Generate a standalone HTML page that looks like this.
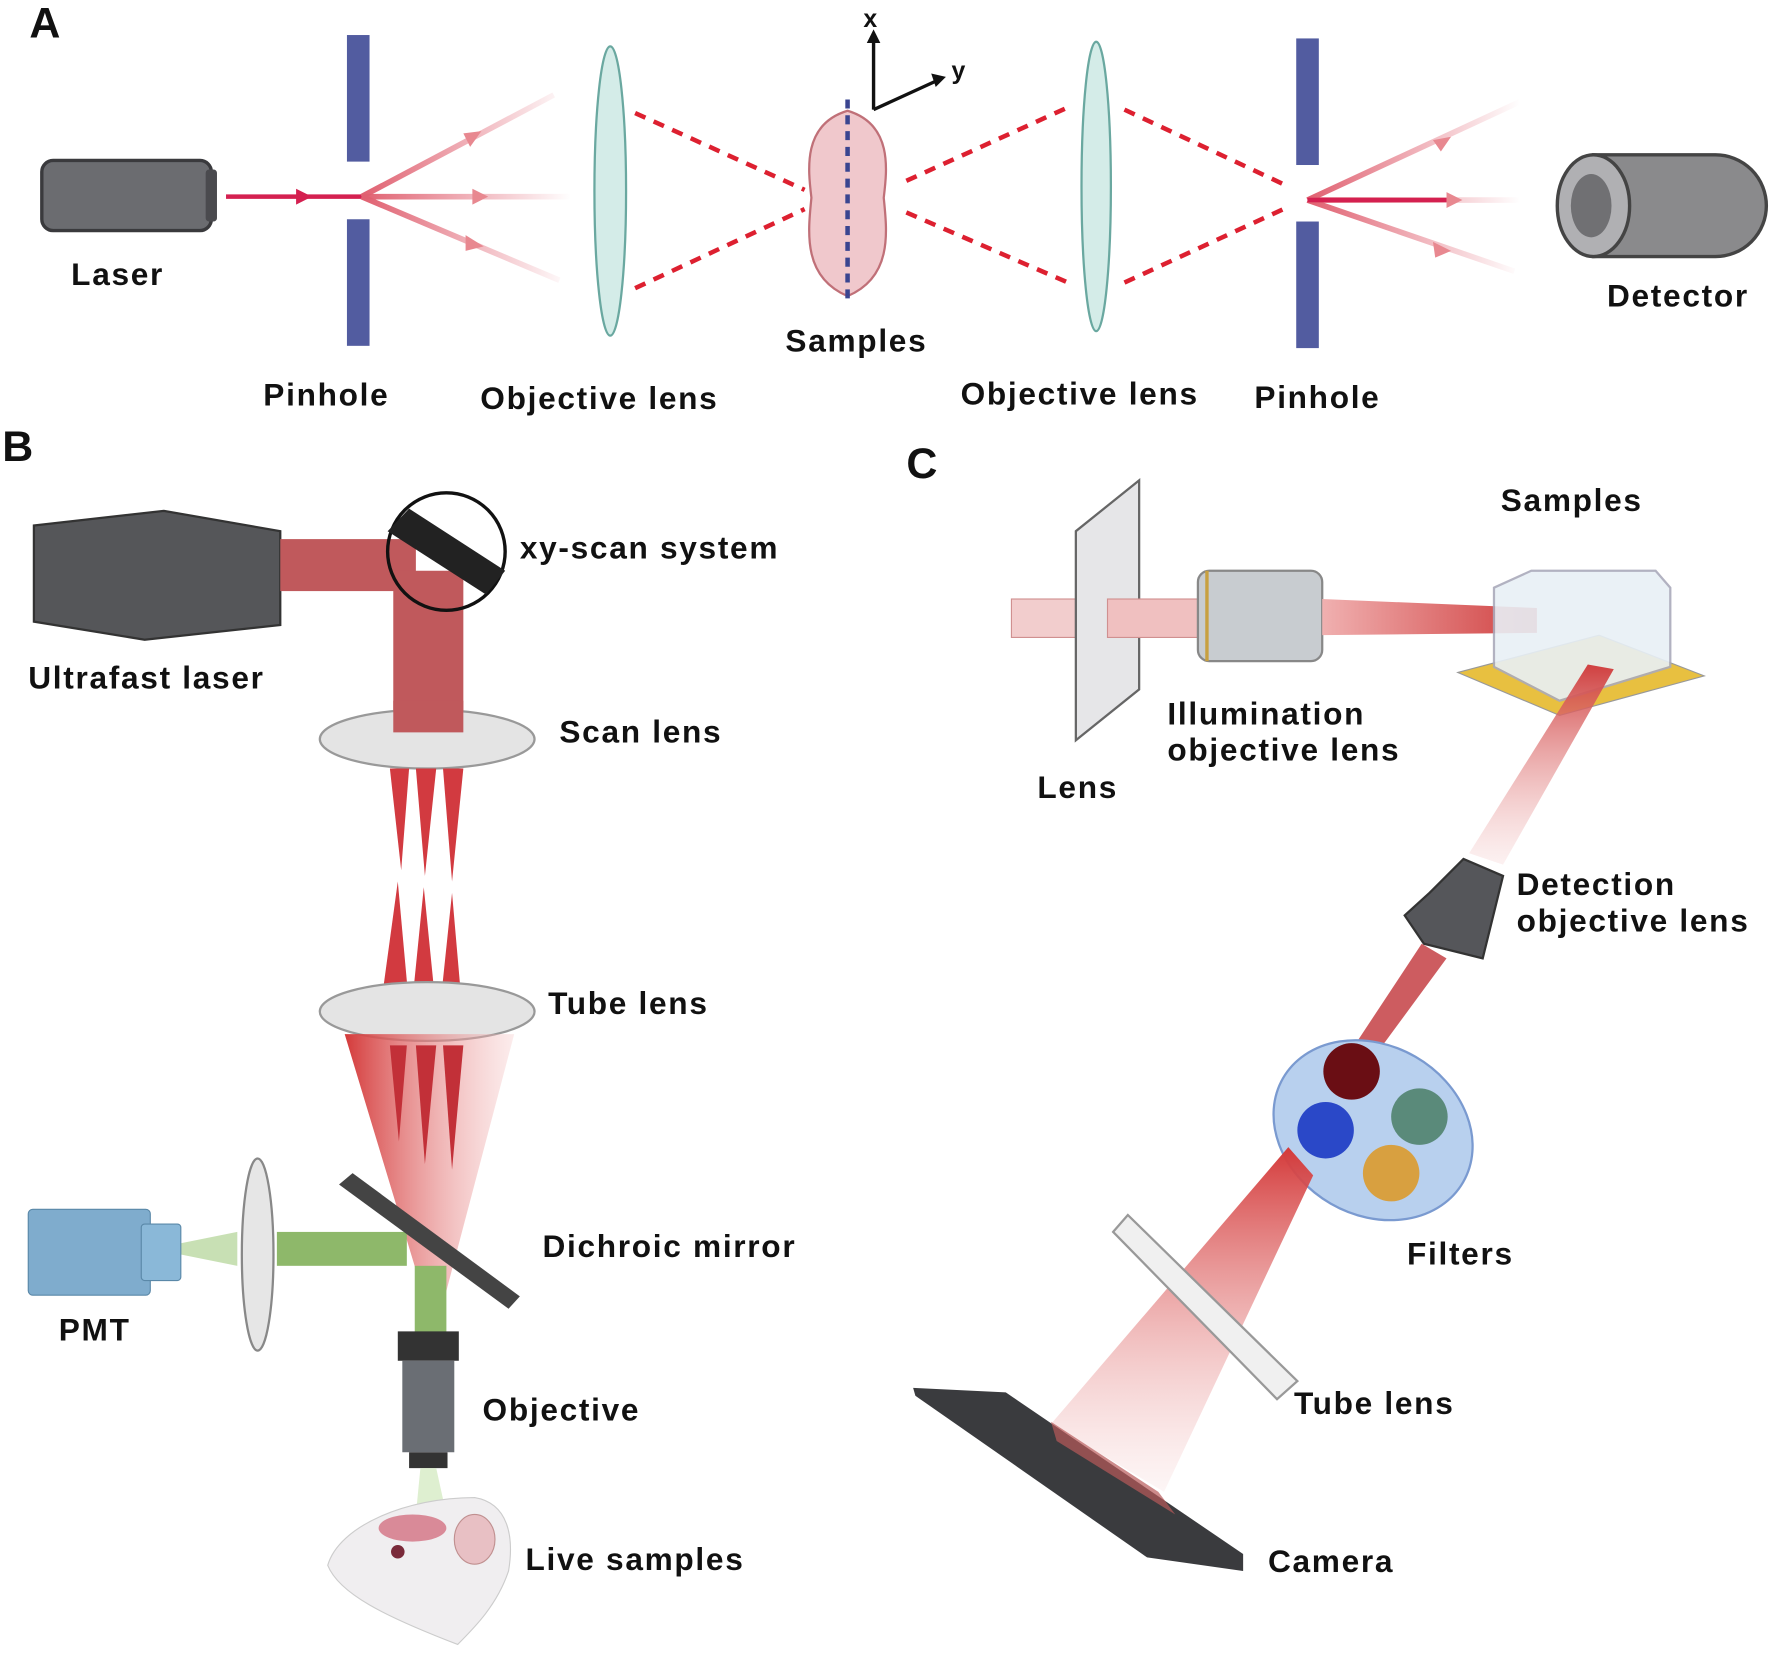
<!DOCTYPE html>
<html><head><meta charset="utf-8"><style>
html,body{margin:0;padding:0;background:#fff}
svg{display:block}
text{font-family:"Liberation Sans",sans-serif;font-weight:bold;fill:#111;letter-spacing:1.5px}
</style></head><body>
<svg width="1772" height="1658" viewBox="0 0 1568 1467" preserveAspectRatio="none" xmlns="http://www.w3.org/2000/svg">
<defs>
<linearGradient id="fadeA" gradientUnits="userSpaceOnUse" x1="320" y1="0" x2="505" y2="0"><stop offset="0" stop-color="#e06070"/><stop offset="1" stop-color="#e06070" stop-opacity="0"/></linearGradient>
<linearGradient id="fadeB" gradientUnits="userSpaceOnUse" x1="1157" y1="0" x2="1345" y2="0"><stop offset="0" stop-color="#e06070"/><stop offset="1" stop-color="#e06070" stop-opacity="0"/></linearGradient>
<linearGradient id="cone" x1="0" y1="0" x2="1" y2="0"><stop offset="0" stop-color="#d43a3a"/><stop offset="1" stop-color="#f4c0c0" stop-opacity="0.3"/></linearGradient>
<linearGradient id="beamC" x1="0" x2="1"><stop offset="0" stop-color="#f0b0b0"/><stop offset="1" stop-color="#d04040"/></linearGradient>
<linearGradient id="beamD" x1="0" y1="1" x2="0" y2="0"><stop offset="0" stop-color="#f5d0d0" stop-opacity="0.3"/><stop offset="1" stop-color="#d04040"/></linearGradient>
<linearGradient id="camCone" x1="0" y1="1" x2="0" y2="0"><stop offset="0" stop-color="#f5d0d0" stop-opacity="0.2"/><stop offset="1" stop-color="#d43a3a"/></linearGradient>
</defs>
<g font-size="28">
<!-- Panel A -->
<text x="26" y="33" font-size="38">A</text>
<rect x="37" y="142" width="150" height="62" rx="10" fill="#6b6c70" stroke="#3a3a3d" stroke-width="3"/>
<rect x="182" y="150" width="10" height="46" rx="3" fill="#4a4a4e"/>
<text x="63" y="252">Laser</text>
<line x1="200" y1="174" x2="320" y2="174" stroke="#d42050" stroke-width="4"/>
<polygon points="262,167 276,174 262,181" fill="#d42050"/>
<rect x="307" y="31" width="20" height="112" fill="#525ca0"/>
<rect x="307" y="194" width="20" height="112" fill="#525ca0"/>
<g stroke="url(#fadeA)" stroke-width="5">
<line x1="320" y1="174" x2="490" y2="84"/><line x1="320" y1="174" x2="510" y2="174"/><line x1="320" y1="174" x2="495" y2="248"/></g>
<g fill="#e88890"><polygon points="410,118 426,116 416,130"/><polygon points="418,167 432,174 418,181"/><polygon points="412,208 428,218 412,222"/></g>
<text x="233" y="359">Pinhole</text>
<ellipse cx="540" cy="169" rx="14" ry="128" fill="#d4ece8" stroke="#6aa8a0" stroke-width="2"/>
<text x="425" y="362">Objective lens</text>
<g stroke="#dd2030" stroke-width="4" stroke-dasharray="10,8" fill="none">
<line x1="562" y1="100" x2="712" y2="168"/><line x1="562" y1="255" x2="712" y2="185"/>
<line x1="802" y1="160" x2="945" y2="95"/><line x1="802" y1="188" x2="945" y2="250"/>
<line x1="995" y1="97" x2="1140" y2="165"/><line x1="995" y1="250" x2="1140" y2="183"/></g>
<path d="M750,98 C790,110 785,150 782,175 C785,205 790,245 750,262 C710,245 715,205 718,175 C715,150 710,110 750,98Z" fill="#f0c8cc" stroke="#c07078" stroke-width="2"/>
<line x1="750" y1="88" x2="750" y2="265" stroke="#3a4590" stroke-width="4" stroke-dasharray="8,6"/>
<text x="695" y="311">Samples</text>
<line x1="773" y1="97" x2="773" y2="30" stroke="#111" stroke-width="3"/><polygon points="767,38 773,26 779,38" fill="#111"/>
<line x1="773" y1="97" x2="832" y2="70" stroke="#111" stroke-width="3"/><polygon points="824,65 837,68 828,77" fill="#111"/>
<text x="764" y="24" font-size="22">x</text><text x="842" y="70" font-size="22">y</text>
<ellipse cx="970" cy="165" rx="13" ry="128" fill="#d4ece8" stroke="#6aa8a0" stroke-width="2"/>
<text x="850" y="358">Objective lens</text>
<rect x="1147" y="34" width="20" height="112" fill="#525ca0"/>
<rect x="1147" y="196" width="20" height="112" fill="#525ca0"/>
<g stroke="url(#fadeB)" stroke-width="5">
<line x1="1157" y1="177" x2="1345" y2="90"/><line x1="1157" y1="177" x2="1345" y2="177"/><line x1="1157" y1="177" x2="1340" y2="240"/></g>
<line x1="1157" y1="177" x2="1280" y2="177" stroke="#d42050" stroke-width="4"/>
<g fill="#e88890"><polygon points="1268,124 1284,121 1275,134"/><polygon points="1280,170 1294,177 1280,184"/><polygon points="1268,214 1284,222 1270,228"/></g>
<text x="1110" y="361">Pinhole</text>
<path d="M1410,137 H1518 A45,45 0 0 1 1518,227 H1410Z" fill="#8a8a8c" stroke="#444" stroke-width="3"/>
<ellipse cx="1410" cy="182" rx="32" ry="45" fill="#b0b0b3" stroke="#444" stroke-width="3"/>
<ellipse cx="1408" cy="182" rx="18" ry="28" fill="#707073"/>
<text x="1422" y="271">Detector</text>

<!-- Panel B -->
<text x="2" y="408" font-size="38">B</text>
<polygon points="30,465 145,452 248,470 248,553 128,566 30,550" fill="#555659" stroke="#333" stroke-width="2"/>
<rect x="248" y="477" width="120" height="46" fill="#c0595c"/>
<rect x="348" y="505" width="62" height="142" fill="#c0595c"/>
<circle cx="395" cy="488" r="52" fill="none" stroke="#111" stroke-width="3"/>
<polygon points="343,470 362,450 447,505 430,526" fill="#222"/>
<text x="460" y="494">xy-scan system</text>
<text x="25" y="609">Ultrafast laser</text>
<ellipse cx="378" cy="654" rx="95" ry="26" fill="#e4e4e4" stroke="#999" stroke-width="2"/>
<rect x="348" y="620" width="62" height="28" fill="#c0595c"/>
<text x="495" y="657">Scan lens</text>
<g fill="#d23a40">
<polygon points="345,680 362,680 355,770"/><polygon points="368,680 386,680 376,775"/><polygon points="392,680 410,680 400,780"/>
<polygon points="352,780 337,890 362,890"/><polygon points="375,785 364,895 386,895"/><polygon points="400,790 388,905 410,905"/></g>
<ellipse cx="378" cy="895" rx="95" ry="26" fill="#e4e4e4" stroke="#999" stroke-width="2"/>
<text x="485" y="897">Tube lens</text>
<polygon points="305,915 455,915 385,1180" fill="url(#cone)"/>
<g fill="#c23038"><polygon points="345,925 360,925 353,1010"/><polygon points="368,925 386,925 376,1030"/><polygon points="392,925 410,925 400,1035"/></g>
<rect x="245" y="1090" width="115" height="30" fill="#8eb86a"/>
<rect x="367" y="1120" width="28" height="60" fill="#8eb86a"/>
<polygon points="160,1100 210,1090 210,1120 160,1110" fill="#c8e0b4"/>
<rect x="25" y="1070" width="108" height="76" rx="4" fill="#7faccd" stroke="#5a88a8"/>
<rect x="125" y="1083" width="35" height="50" rx="3" fill="#8ab8d8" stroke="#5a88a8"/>
<ellipse cx="228" cy="1110" rx="14" ry="85" fill="#e6e6e6" stroke="#888" stroke-width="2"/>
<text x="52" y="1186">PMT</text>
<polygon points="300,1048 312,1038 460,1147 450,1158" fill="#444"/>
<text x="480" y="1112">Dichroic mirror</text>
<rect x="352" y="1178" width="54" height="26" fill="#333"/>
<polygon points="356,1204 402,1204 402,1285 356,1285" fill="#6a6e74"/>
<rect x="362" y="1285" width="34" height="14" fill="#333"/>
<polygon points="372,1299 386,1299 395,1340 368,1340" fill="#d6ebc4" opacity="0.8"/>
<text x="427" y="1257">Objective</text>
<path d="M290,1385 C300,1350 360,1325 420,1325 C450,1330 455,1360 450,1390 C440,1420 420,1440 405,1455 C340,1430 300,1410 290,1385Z" fill="#f0eef0" stroke="#ccc"/>
<ellipse cx="365" cy="1352" rx="30" ry="12" fill="#d98a98"/>
<ellipse cx="420" cy="1362" rx="18" ry="22" fill="#e8c0c4" stroke="#c09090"/>
<circle cx="352" cy="1373" r="6" fill="#7a2a3a"/>
<text x="465" y="1389">Live samples</text>

<!-- Panel C -->
<text x="802" y="423" font-size="38">C</text>
<rect x="895" y="530" width="65" height="34" fill="#f2cdcd" stroke="#d09090"/>
<polygon points="952,470 1008,425 1008,610 952,655" fill="#e6e6e8" stroke="#666" stroke-width="2"/>
<rect x="980" y="530" width="80" height="34" fill="#f0c0c0" stroke="#d09090"/>
<rect x="1060" y="505" width="110" height="80" rx="10" fill="#c8ccd0" stroke="#888" stroke-width="2"/>
<line x1="1068" y1="505" x2="1068" y2="585" stroke="#c8a040" stroke-width="3"/>
<polygon points="1170,530 1360,538 1360,560 1170,562" fill="url(#beamC)"/>
<text x="918" y="706">Lens</text>
<text x="1033" y="641">Illumination</text><text x="1033" y="673">objective lens</text>
<polygon points="1290,595 1415,562 1508,598 1380,633" fill="#e8c040" stroke="#999"/>
<path d="M1322,520 L1355,505 H1465 L1478,520 V590 L1380,620 L1322,590Z" fill="#e8f0f6" stroke="#aab" stroke-width="2" opacity="0.9"/>
<text x="1328" y="452">Samples</text>
<polygon points="1405,588 1428,592 1330,765 1300,755" fill="url(#beamD)"/>
<polygon points="1265,790 1295,760 1330,775 1312,848 1260,835 1243,810" fill="#55565a" stroke="#333" stroke-width="2"/>
<text x="1342" y="792">Detection</text><text x="1342" y="824">objective lens</text>
<polygon points="1258,835 1280,848 1205,950 1190,938" fill="#cd5c60"/>
<ellipse cx="1215" cy="1000" rx="92" ry="75" fill="#b8d0ee" stroke="#7a9ad0" stroke-width="2" transform="rotate(30 1215 1000)"/>
<circle cx="1196" cy="948" r="25" fill="#6a0e14"/>
<circle cx="1256" cy="988" r="25" fill="#5a8a7a"/>
<circle cx="1173" cy="1000" r="25" fill="#2a48c8"/>
<circle cx="1231" cy="1038" r="25" fill="#d8a040"/>
<text x="1245" y="1119">Filters</text>
<polygon points="1140,1015 1162,1040 1030,1320 930,1260" fill="url(#camCone)"/>
<polygon points="985,1090 998,1075 1148,1222 1130,1238" fill="#f0f0f0" stroke="#999" stroke-width="2"/>
<polygon points="808,1228 890,1232 1100,1375 1100,1390 1015,1378 810,1235" fill="#3a3b3e"/>
<polygon points="930,1258 1025,1320 1040,1340 935,1275" fill="#b85a5a" opacity="0.7"/>
<text x="1145" y="1251">Tube lens</text>
<text x="1122" y="1391">Camera</text>
</g>
</svg>
</body></html>
